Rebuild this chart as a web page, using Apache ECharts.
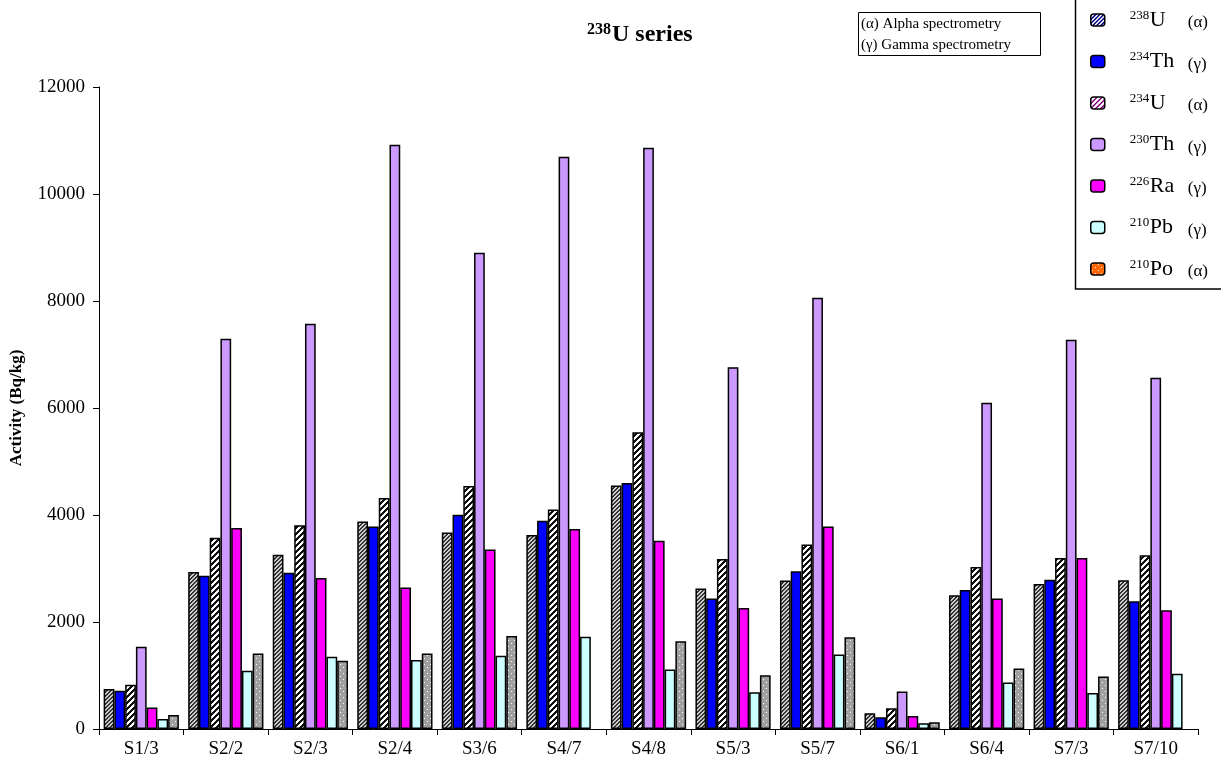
<!DOCTYPE html>
<html>
<head>
<meta charset="utf-8">
<script src="https://cdn.jsdelivr.net/npm/echarts@6/dist/echarts.min.js"></script>
<style>html,body{margin:0;padding:0;background:#fff}#c{width:1221px;height:767px}</style>
</head>
<body>
<div id="c"></div>
<script>
// ---- data ----
const categories = ['S1/3','S2/2','S2/3','S2/4','S3/6','S4/7','S4/8','S5/3','S5/7','S6/1','S6/4','S7/3','S7/10'];
const seriesNames = ['238U','234Th','234U','230Th','226Ra','210Pb','210Po'];
const methodTags = ['α','γ','α','γ','γ','γ','α'];
const u238  = [748, 2935, 3255, 3880, 3675, 3626, 4550, 2624, 2774, 293, 2499, 2710, 2779];
const th234 = [716, 2865, 2922, 3787, 4006, 3894, 4598, 2437, 2948, 219, 2598, 2792, 2387];
const u234  = [828, 3575, 3810, 4318, 4542, 4105, 5546, 3178, 3447, 387, 3028, 3196, 3246];
const th230 = [1538, 7295, 7576, 10921, 8903, 10697, 10865, 6760, 8062, 699, 6097, 7277, 6565];
const ra226 = [404, 3755, 2822, 2647, 3357, 3738, 3521, 2262, 3783, 243, 2437, 3196, 2219];
const pb210 = [187, 1090, 1351, 1290, 1370, 1725, 1110, 686, 1391, 107, 867, 673, 1035];
const po210 = [262, 1413, 1277, 1413, 1738, null, 1639, 1004, 1714, 125, 1129, 979, null];
const yTicks = {min: 0, max: 12000, interval: 2000};
const noteLines = ['(α) Alpha spectrometry', '(γ) Gamma spectrometry'];

// ---- patterns ----
function stripes(period, width, dark, light) {
  const s = period * 2;
  const c = document.createElement('canvas'); c.width = s; c.height = s;
  const ctx = c.getContext('2d');
  const img = ctx.createImageData(s, s);
  const d = hex(dark), l = hex(light);
  for (let y = 0; y < s; y++) for (let x = 0; x < s; x++) {
    const k = (x + y) % period;
    const col = k < width ? d : l;
    const i = (y * s + x) * 4;
    img.data[i] = col[0]; img.data[i+1] = col[1]; img.data[i+2] = col[2]; img.data[i+3] = 255;
  }
  ctx.putImageData(img, 0, 0);
  return {image: c, repeat: 'repeat'};
}
function dots(bg, size) {
  const c = document.createElement('canvas'); c.width = size; c.height = size;
  const ctx = c.getContext('2d');
  ctx.fillStyle = bg; ctx.fillRect(0, 0, size, size);
  ctx.fillStyle = '#ffffff';
  ctx.fillRect(1, 1, 1, 1);
  ctx.fillRect(1 + size / 2, 1 + size / 2, 1, 1);
  return {image: c, repeat: 'repeat'};
}
function hex(h) { h = h.replace('#',''); return [parseInt(h.substr(0,2),16), parseInt(h.substr(2,2),16), parseInt(h.substr(4,2),16)]; }

const barFills = [
  stripes(4, 2, '#333333', '#cfcfcf'),
  '#0000ff',
  stripes(6, 3, '#111111', '#ffffff'),
  '#cc99ff',
  '#ff00ff',
  '#ccffff',
  dots('#a0a0a0', 6)
];
const legendFills = [
  stripes(4, 2, '#000080', '#ffffff'),
  '#0000ff',
  stripes(5, 2, '#800080', '#ffffff'),
  '#cc99ff',
  '#ff00ff',
  '#ccffff',
  dots('#ff6600', 6)
];
const values = [u238, th234, u234, th230, ra226, pb210, po210];

const serif = 'Liberation Serif';
const chart = echarts.init(document.getElementById('c'));
chart.setOption({
  animation: false,
  backgroundColor: '#ffffff',
  title: {
    text: '{sup|238}{main|U series}',
    left: 582, top: 17,
    textStyle: {
      rich: {
        sup: {fontFamily: serif, fontWeight: 'bold', fontSize: 16, color: '#000', padding: [0, 1, 10, 0]},
        main: {fontFamily: serif, fontWeight: 'bold', fontSize: 24, color: '#000'}
      }
    }
  },
  legend: {
    orient: 'vertical',
    left: 1085, top: 4,
    itemWidth: 14, itemHeight: 12,
    itemGap: 19,
    selectedMode: false,
    data: seriesNames.map((n, i) => ({name: n, itemStyle: {color: legendFills[i], borderColor: '#000', borderWidth: 1.5}})),
    formatter: function (name) {
      const m = name.match(/^(\d+)(\D+)$/);
      const tag = methodTags[seriesNames.indexOf(name)];
      return '{sup|' + m[1] + '}{el|' + m[2] + '}{tag|(' + tag + ')}';
    },
    textStyle: {
      rich: {
        sup: {fontFamily: serif, fontSize: 13, color: '#000', padding: [0, 0, 9, 20], width: 20},
        el: {fontFamily: serif, fontSize: 22, color: '#000', width: 38},
        tag: {fontFamily: serif, fontSize: 17, color: '#000', padding: [6, 0, 0, 0]}
      }
    }
  },
  graphic: [
    {type: 'rect', shape: {x: 1075.5, y: -2, width: 150, height: 291}, style: {fill: 'none', stroke: '#000', lineWidth: 1.5}, z: 100},
    {type: 'rect', shape: {x: 858.5, y: 12.5, width: 182, height: 43}, style: {fill: '#fff', stroke: '#000', lineWidth: 1}, z: 100},
    {type: 'text', x: 861, y: 14, style: {text: noteLines.join('\n'), font: '15px "Liberation Serif"', lineHeight: 21, fill: '#000'}, z: 101}
  ],
  grid: {left: 98, right: 23, top: 87, bottom: 38, containLabel: false},
  xAxis: {
    type: 'category',
    data: categories,
    axisLine: {show: true, lineStyle: {color: '#000', width: 1}},
    axisTick: {show: true, length: 6, lineStyle: {color: '#000'}},
    axisLabel: {fontFamily: serif, fontSize: 19, color: '#000', margin: 11}
  },
  yAxis: {
    type: 'value',
    min: yTicks.min, max: yTicks.max, interval: yTicks.interval,
    name: 'Activity (Bq/kg)',
    nameLocation: 'middle',
    nameGap: 74,
    nameTextStyle: {fontFamily: serif, fontWeight: 'bold', fontSize: 17, color: '#000'},
    axisLine: {show: true, lineStyle: {color: '#000', width: 1}},
    axisTick: {show: true, length: 6, lineStyle: {color: '#000'}},
    axisLabel: {fontFamily: serif, fontSize: 19, color: '#000', margin: 14, formatter: v => String(v)},
    splitLine: {show: false}
  },
  series: seriesNames.map((n, i) => ({
    name: n,
    type: 'bar',
    data: values[i],
    barGap: '0%',
    barCategoryGap: '11%',
    itemStyle: {color: barFills[i], borderColor: '#000', borderWidth: 1.5}
  }))
});
</script>
</body>
</html>
